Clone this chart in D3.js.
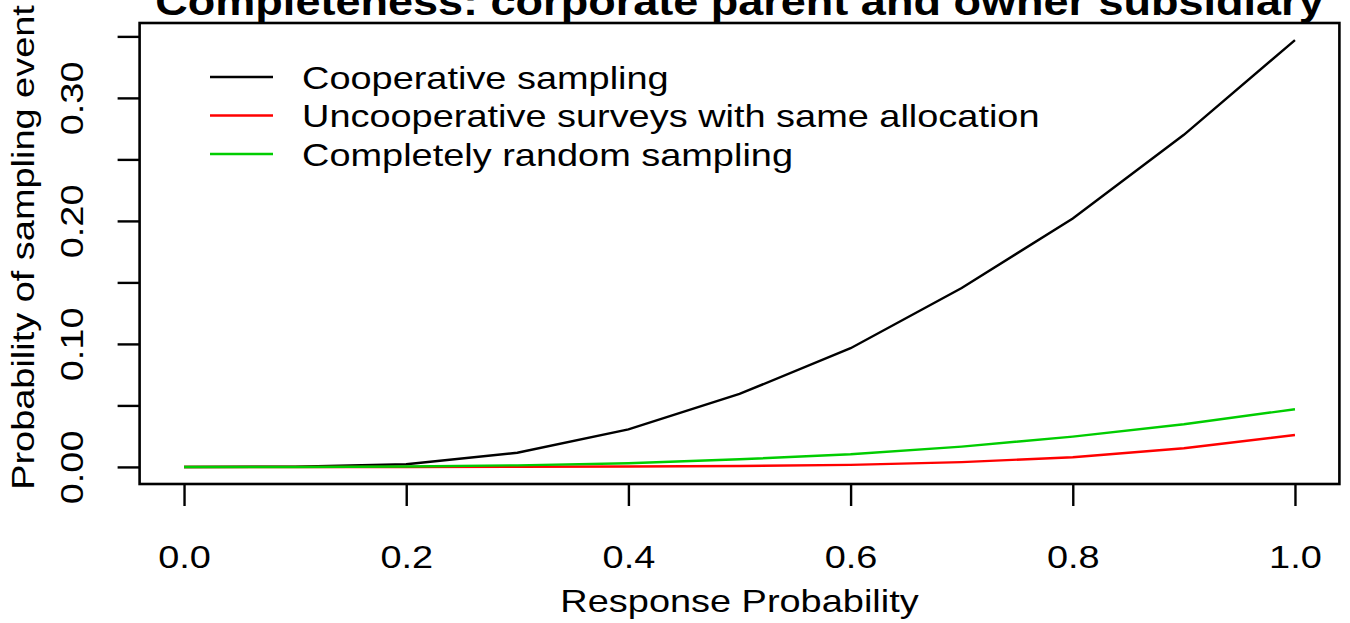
<!DOCTYPE html>
<html>
<head>
<meta charset="utf-8">
<script src="https://cdn.jsdelivr.net/npm/d3@7"></script>
<style>
  body { margin: 0; background: #fff; }
  svg { display: block; font-family: "Liberation Sans", Arial, Helvetica, sans-serif; }
</style>
</head>
<body>
<div id="chart"></div>
<script>
const responseProb = [0, 0.1, 0.2, 0.3, 0.4, 0.5, 0.6, 0.7, 0.8, 0.9, 1.0];
const cooperative = [0, 0.0002, 0.0022, 0.0115, 0.0305, 0.0593, 0.0965, 0.1455, 0.202, 0.270, 0.347];
const uncooperative = [0, 0, 0, 0.0001, 0.0003, 0.0008, 0.0017, 0.0039, 0.0079, 0.0152, 0.026];
const completelyRandom = [0, 0, 0.0004, 0.0013, 0.003, 0.0062, 0.0103, 0.0165, 0.0246, 0.0347, 0.0469];

const seriesNames = ["Cooperative sampling", "Uncooperative surveys with same allocation", "Completely random sampling"];
const seriesColors = ["#000000", "#ff0000", "#00cd00"];
const xTicks = [0, 0.2, 0.4, 0.6, 0.8, 1.0];
const yTicks = [0, 0.05, 0.10, 0.15, 0.20, 0.25, 0.30, 0.35];
const yLabelled = [0, 0.10, 0.20, 0.30];

const W = 1350, H = 623;
const box = { left: 139.6, right: 1339.4, top: 23, bottom: 484 };
const sx = 1.185; // glyphs in the original are wider than Liberation Sans
const fs = 32;

const svg = d3.select("#chart").append("svg")
  .attr("width", W)
  .attr("height", H);

// R style 4% padding on each side
const xPad = 0.04 * (1 - 0);
const yMax = d3.max(cooperative);
const yPad = 0.04 * yMax;

const x = d3.scaleLinear().domain([0 - xPad, 1 + xPad]).range([box.left, box.right]);
const y = d3.scaleLinear().domain([0 - yPad, yMax + yPad]).range([box.bottom, box.top]);

// Lines
const series = [cooperative, uncooperative, completelyRandom];
const line = d3.line()
  .x((d, i) => x(responseProb[i]))
  .y(d => y(d));

series.forEach((s, k) => {
  svg.append("path")
    .datum(s)
    .attr("fill", "none")
    .attr("stroke", seriesColors[k])
    .attr("stroke-width", 2.4)
    .attr("d", line);
});

// Box
svg.append("rect")
  .attr("x", box.left)
  .attr("y", box.top)
  .attr("width", box.right - box.left)
  .attr("height", box.bottom - box.top)
  .attr("fill", "none")
  .attr("stroke", "#000")
  .attr("stroke-width", 2.6);

// x axis
const xAxis = svg.append("g")
  .attr("transform", `translate(0,${box.bottom})`)
  .call(d3.axisBottom(x).tickValues(xTicks).tickSize(22).tickFormat(d3.format(".1f")));
xAxis.select(".domain").remove();
xAxis.selectAll("line").attr("stroke", "#000").attr("stroke-width", 2.4);
xAxis.selectAll("text")
  .attr("y", 0).attr("dy", null)
  .attr("transform", `translate(0,${568 - box.bottom}) scale(${sx},1)`)
  .attr("fill", "#000")
  .style("font-size", fs + "px")
  .style("font-family", "Liberation Sans, Arial, sans-serif");

// y axis
const yAxis = svg.append("g")
  .attr("transform", `translate(${box.left},0)`)
  .call(d3.axisLeft(y).tickValues(yTicks).tickSize(22)
    .tickFormat(d => yLabelled.some(v => Math.abs(v - d) < 1e-9) ? d3.format(".2f")(d) : ""));
yAxis.select(".domain").remove();
yAxis.selectAll("line").attr("stroke", "#000").attr("stroke-width", 2.4);
yAxis.selectAll("text")
  .attr("x", 0).attr("dy", null)
  .attr("text-anchor", "middle")
  .attr("transform", `translate(${83 - box.left},0) rotate(-90) scale(${sx},1)`)
  .attr("fill", "#000")
  .style("font-size", fs + "px")
  .style("font-family", "Liberation Sans, Arial, sans-serif");

// Axis titles
svg.append("text")
  .attr("transform", `translate(${(box.left + box.right) / 2},612) scale(${sx},1)`)
  .attr("text-anchor", "middle")
  .style("font-size", fs + "px")
  .text("Response Probability");

svg.append("text")
  .attr("transform", `translate(34,${(box.top + box.bottom) / 2 - 6}) rotate(-90) scale(${sx},1)`)
  .attr("text-anchor", "middle")
  .style("font-size", fs + "px")
  .text("Probability of sampling event");

// Title (clipped at the top in the original)
svg.append("text")
  .attr("transform", `translate(${(box.left + box.right) / 2},15) scale(${sx},1)`)
  .attr("text-anchor", "middle")
  .style("font-size", "38px")
  .style("font-weight", "bold")
  .text("Completeness: corporate parent and owner subsidiary");

// Legend
const legendY = d3.scalePoint().domain(seriesNames).range([77, 154]);
const legend = svg.append("g");
seriesNames.forEach((name, k) => {
  legend.append("line")
    .attr("x1", 210).attr("x2", 273)
    .attr("y1", legendY(name)).attr("y2", legendY(name))
    .attr("stroke", seriesColors[k])
    .attr("stroke-width", 2.4);
  legend.append("text")
    .attr("transform", `translate(302,${legendY(name) + 11.5}) scale(${sx},1)`)
    .style("font-size", fs + "px")
    .text(name);
});
</script>
</body>
</html>
